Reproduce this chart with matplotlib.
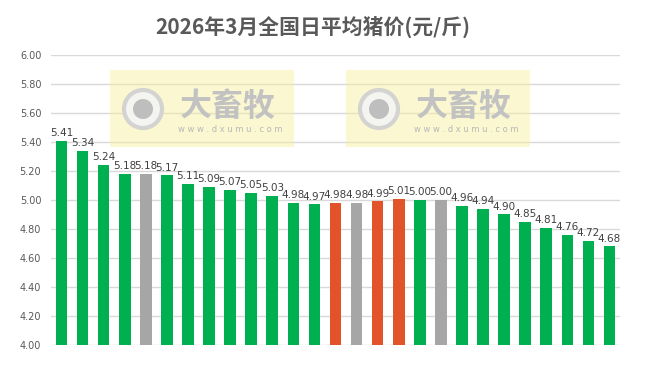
import matplotlib
matplotlib.use("Agg")
import matplotlib.pyplot as plt
from matplotlib.patches import Rectangle, Circle

plt.rcParams['font.family'] = ['Noto Sans CJK SC', 'DejaVu Sans']

# daily average pig price, March 2026 (yuan / jin)
prices = [5.41, 5.34, 5.24, 5.18, 5.18, 5.17, 5.11, 5.09, 5.07, 5.05, 5.03,
          4.98, 4.97, 4.98, 4.98, 4.99, 5.01, 5.00, 5.00, 4.96, 4.94, 4.90,
          4.85, 4.81, 4.76, 4.72, 4.68]
# g = green, o = orange, n = gray
kinds = ['g', 'g', 'g', 'g', 'n', 'g', 'g', 'g', 'g', 'g', 'g',
         'g', 'g', 'o', 'n', 'o', 'o', 'g', 'n', 'g', 'g', 'g',
         'g', 'g', 'g', 'g', 'g']
yticks = [4.0 + 0.2 * i for i in range(11)]

palette = {'g': '#00B050', 'o': '#E2532A', 'n': '#A6A6A6'}

W, H = 650, 367
fig = plt.figure(figsize=(W / 100, H / 100), dpi=100)


def fx(px):
    return px / W


def fy(py):
    return 1 - py / H


ax = fig.add_axes([fx(51), fy(345), fx(620) - fx(51), fy(55) - fy(345)])

x = range(len(prices))
ax.bar(x, [p - 4.0 for p in prices], bottom=4.0, width=0.55,
       color=[palette[k] for k in kinds], zorder=3)
for i, p in zip(x, prices):
    ax.annotate(f"{p:.2f}", (i, p), xytext=(0, 2), textcoords="offset points",
                ha="center", va="bottom", fontsize=7.5, color="#404040",
                family=['DejaVu Sans'], zorder=4)

ax.set_xlim(-0.5, len(prices) - 0.5)
ax.set_ylim(4.0, 6.0)
ax.set_yticks(yticks)
ax.set_yticklabels([f"{t:.2f}" for t in yticks], fontsize=7, color="#595959",
                   family=['DejaVu Sans'])
ax.set_xticks([])
ax.tick_params(axis="y", length=0, pad=7)
ax.grid(axis="y", color="#D9D9D9", linewidth=1, zorder=0)
for s in ax.spines.values():
    s.set_visible(False)

fig.text(fx(313), fy(27), "2026年3月全国日平均猪价(元/斤)", ha="center",
         va="center", fontsize=15, fontweight="bold", color="#595959")

# watermarks
for left in (110, 346):
    fig.patches.append(Rectangle((fx(left), fy(147)), fx(184), fy(70) - fy(147),
                                 transform=fig.transFigure, facecolor="#F6EE9A",
                                 alpha=0.45, edgecolor="none", zorder=2))
    cx, cy = left + 33, 109
    ring = Circle((cx, H - cy), 19, transform=None, facecolor="#F4F4F4",
                  edgecolor="#D0D0D0", linewidth=3, alpha=0.9, zorder=2)
    dot = Circle((cx, H - cy), 10, transform=None, facecolor="#BEBEBE",
                 edgecolor="none", zorder=2)
    fig.patches.extend([ring, dot])
    fig.text(fx(left + 118), fy(107), "大畜牧", ha="center", va="center",
             fontsize=23, fontweight="bold", color="#C2C2C2", zorder=2)
    fig.text(fx(left + 120), fy(130), "w w w . d x u m u . c o m", ha="center",
             va="center", fontsize=6, color="#B8B8B8", zorder=2,
             family=['DejaVu Sans'])

fig.savefig("out.png", dpi=100)
